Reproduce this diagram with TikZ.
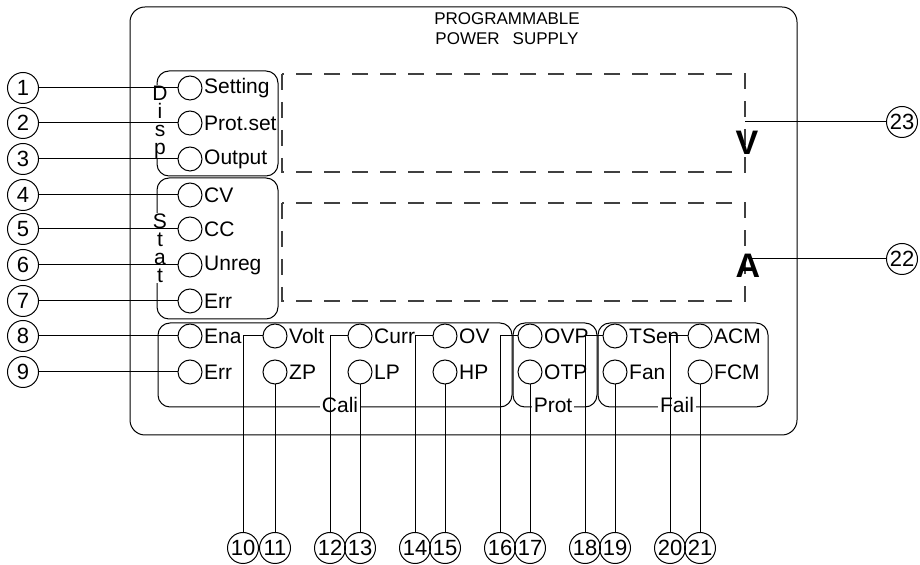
\documentclass[tikz,border=0pt]{standalone}
\usepackage{fontspec}
\setmainfont{Liberation Sans}
\usetikzlibrary{calc}

\begin{document}
\begin{tikzpicture}[x=0.5pt, y=-0.5pt, line width=0.5pt,
    lamp/.style={draw, circle, minimum size=12pt, inner sep=0pt},
    lamptext/.style={inner sep=0.6pt, font=\fontsize{10.5}{12}\selectfont},
    numcircle/.style={draw, circle, minimum size=15.5pt, inner sep=0pt, font=\fontsize{11}{12}\selectfont},
    groupbox/.style={rounded corners=6pt},
    readout/.style={black!75, line width=0.6pt, dash pattern=on 8pt off 6pt},
    grouplabel/.style={fill=white, inner sep=1pt, font=\fontsize{10.5}{12}\selectfont},
    sidelabel/.style={fill=white, inner sep=0.3pt, align=center, font=\fontsize{10.5}{9}\selectfont}]
  \useasboundingbox (0,0) rectangle (920,565);

  % Front panel
  \draw[rounded corners=7.5pt] (130,7) rectangle (797,435);
  \node[align=center, font=\fontsize{8.5}{10}\selectfont] (title) at (507,29) {PROGRAMMABLE\\POWER\hspace{6.5pt}SUPPLY};

  % Readouts
  \draw[readout] (282,74) rectangle (745,172);
  \draw[readout] (282,203) rectangle (745,301);
  \node[font=\fontsize{17}{20}\selectfont\bfseries] (vlet) at (747,143) {V};
  \node[font=\fontsize{17}{20}\selectfont\bfseries] (alet) at (748,266) {A};
  \coordinate (vright) at (745,122);

  % Groups
  \draw[groupbox] (157,71) rectangle (278,176);
  \draw[groupbox] (157,178) rectangle (278,319);
  \draw[groupbox] (158,323) rectangle (512,407);
  \draw[groupbox] (513,323) rectangle (597,407);
  \draw[groupbox] (598,323) rectangle (768,407);
  \node[sidelabel] (disp) at (160,122) {D\\i\\s\\p};
  \node[sidelabel] (stat) at (160,248) {S\\t\\a\\t};
  \node[grouplabel] (cali) at (340,405) {Cali};
  \node[grouplabel] (prot) at (553,405) {Prot};
  \node[grouplabel] (fail) at (677,405) {Fail};

  % Indicators, left column
  \node[lamp, label={[lamptext]right:Setting}] (setting) at (190,88) {};
  \node[lamp, label={[lamptext]right:Prot.set}] (protset) at (190,123) {};
  \node[lamp, label={[lamptext]right:Output}] (output) at (190,159) {};
  \node[lamp, label={[lamptext]right:CV}] (cv) at (190,195) {};
  \node[lamp, label={[lamptext]right:CC}] (cc) at (190,229) {};
  \node[lamp, label={[lamptext]right:Unreg}] (unreg) at (190,265) {};
  \node[lamp, label={[lamptext]right:Err}] (staterr) at (190,301) {};
  \node[lamp, label={[lamptext]right:Ena}] (ena) at (190,336) {};
  \node[lamp, label={[lamptext]right:Err}] (calierr) at (190,372) {};

  % Indicators, bottom rows
  \node[lamp, label={[lamptext]right:Volt}] (volt) at (275,336) {};
  \node[lamp, label={[lamptext]right:ZP}] (zp) at (275,372) {};
  \node[lamp, label={[lamptext]right:Curr}] (curr) at (360,336) {};
  \node[lamp, label={[lamptext]right:LP}] (lp) at (360,372) {};
  \node[lamp, label={[lamptext]right:OV}] (ov) at (445,336) {};
  \node[lamp, label={[lamptext]right:HP}] (hp) at (445,372) {};
  \node[lamp, label={[lamptext]right:OVP}] (ovp) at (530,336) {};
  \node[lamp, label={[lamptext]right:OTP}] (otp) at (530,372) {};
  \node[lamp, label={[lamptext]right:TSen}] (tsen) at (615,336) {};
  \node[lamp, label={[lamptext]right:Fan}] (fan) at (615,372) {};
  \node[lamp, label={[lamptext]right:ACM}] (acm) at (700,336) {};
  \node[lamp, label={[lamptext]right:FCM}] (fcm) at (700,372) {};

  % Callout numbers
  \node[numcircle] (n1) at (23,88) {1};
  \node[numcircle] (n2) at (23,123) {2};
  \node[numcircle] (n3) at (23,159) {3};
  \node[numcircle] (n4) at (23,195) {4};
  \node[numcircle] (n5) at (23,229) {5};
  \node[numcircle] (n6) at (23,265) {6};
  \node[numcircle] (n7) at (23,301) {7};
  \node[numcircle] (n8) at (23,336) {8};
  \node[numcircle] (n9) at (23,372) {9};
  \node[numcircle] (n10) at (243,548) {10};
  \node[numcircle] (n11) at (275,548) {11};
  \node[numcircle] (n12) at (330,548) {12};
  \node[numcircle] (n13) at (360,548) {13};
  \node[numcircle] (n14) at (415,548) {14};
  \node[numcircle] (n15) at (445,548) {15};
  \node[numcircle] (n16) at (500,548) {16};
  \node[numcircle] (n17) at (530,548) {17};
  \node[numcircle] (n18) at (585,548) {18};
  \node[numcircle] (n19) at (615,548) {19};
  \node[numcircle] (n20) at (670,548) {20};
  \node[numcircle] (n21) at (700,548) {21};
  \node[numcircle] (n22) at (902,259) {22};
  \node[numcircle] (n23) at (902,122) {23};

  % Leaders
  \draw (n1) -- (setting);
  \draw (n2) -- (protset);
  \draw (n3) -- (output);
  \draw (n4) -- (cv);
  \draw (n5) -- (cc);
  \draw (n6) -- (unreg);
  \draw (n7) -- (staterr);
  \draw (n8) -- (ena);
  \draw (n9) -- (calierr);
  \draw (n10) |- (volt);
  \draw (n11) -- (zp);
  \draw (n12) |- (curr);
  \draw (n13) -- (lp);
  \draw (n14) |- (ov);
  \draw (n15) -- (hp);
  \draw (n16) |- (ovp);
  \draw (n17) -- (otp);
  \draw (n18) |- (tsen);
  \draw (n19) -- (fan);
  \draw (n20) |- (acm);
  \draw (n21) -- (fcm);
  \draw (n22) -- (n22 -| alet.center);
  \draw (n23) -- (vright);
\end{tikzpicture}
\end{document}
